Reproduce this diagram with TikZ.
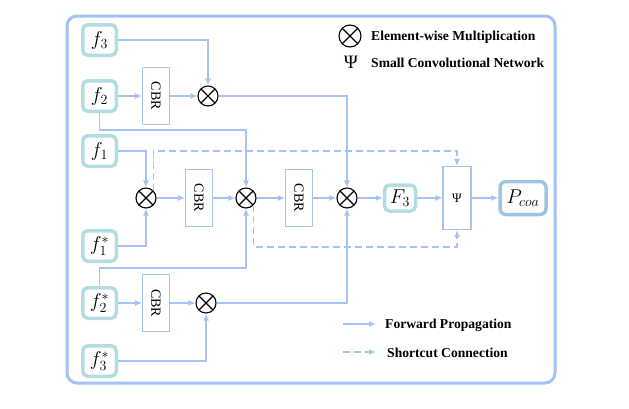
\documentclass[tikz,border=0pt]{standalone}
\usepackage{fix-cm}
\usepackage{fontspec}
\setmainfont{Liberation Serif}
\usetikzlibrary{arrows.meta}
\definecolor{lineblue}{HTML}{A4C2F4}
\definecolor{featcol}{HTML}{B4DDE3}
\definecolor{outcol}{HTML}{9DC3E6}
\tikzset{
	feat/.style={draw=featcol, line width=3.5pt, rounded corners=5pt, minimum width=33.5pt, minimum height=30.5pt, inner sep=0pt, font=\fontsize{20}{24}\selectfont},
	cbr/.style={draw=lineblue, line width=1.1pt, rotate=-90, minimum width=57pt, minimum height=27pt, inner sep=0pt, font=\fontsize{14}{16}\selectfont},
	mul/.style={circle, draw, line width=1.1pt, minimum size=20pt, inner sep=0pt,
		path picture={\draw[line width=1.1pt] (path picture bounding box.south west) -- (path picture bounding box.north east) (path picture bounding box.north west) -- (path picture bounding box.south east);}},
	fw/.style={draw=lineblue, line width=1.5pt, -{Latex[length=7pt,width=6pt]}},
	sc/.style={fw, dash pattern=on 7pt off 4pt},
	legtext/.style={anchor=west, inner sep=0pt, font=\fontsize{13.6}{16}\selectfont\bfseries}
}
\begin{document}
\begin{tikzpicture}[x=1pt, y=-1pt]
				\useasboundingbox (0,0) rectangle (629,408);
				\draw[lineblue, line width=3pt, rounded corners=10pt] (67,16) rectangle (555,383);
				
				\node[feat] (f3) at (99.5,40) {$f_3$};
				\node[feat] (f2) at (99.5,96) {$f_2$};
				\node[feat] (f1) at (99.5,151) {$f_1$};
				\node[feat] (f1s) at (99.5,246) {$f_1^*$};
				\node[feat] (f2s) at (99.5,303) {$f_2^*$};
				\node[feat] (f3s) at (99.5,361) {$f_3^*$};
				
				\node[cbr] (cbr1) at (156,96) {CBR};
				\node[mul] (mul1) at (208,96) {};
				
				\node[mul] (mulA) at (146,198) {};
				\node[cbr] (cbrA) at (199,198) {CBR};
				\node[mul] (mulB) at (246,198) {};
				\node[cbr] (cbrB) at (299,198) {CBR};
				\node[mul] (mulC) at (347,198) {};
				\node[draw=featcol, line width=3.5pt, rounded corners=5pt, minimum width=31pt, minimum height=26pt, inner sep=0pt, font=\fontsize{20}{24}\selectfont] (F3) at (400,198) {$F_3$};
				\node[draw=lineblue, line width=1.1pt, minimum width=28pt, minimum height=63pt, inner sep=0pt, font=\fontsize{13}{15}\selectfont] (psi) at (457,198) {Ψ};
				\node[draw=outcol, line width=3.5pt, rounded corners=6pt, minimum width=46pt, minimum height=33pt, inner sep=0pt, font=\fontsize{20}{24}\selectfont] (pcoa) at (523,198) {$P_{coa}$};
				
				\node[cbr] (cbr2) at (156,303) {CBR};
				\node[mul] (mul2) at (206,303) {};
				
				\coordinate (k2) at (150,130);
				\coordinate (k5) at (150,268);
				\coordinate (kt) at (300,151);
				\coordinate (kb) at (350,247);
				
				\draw[fw] (f3) -| (mul1);
				\draw[fw] (f2) -- (cbr1);
				\draw[fw] (cbr1) -- (mul1);
				\draw[fw] (mul1) -| (mulC);
				\draw[fw] (f2.south) |- (k2) -| (mulB);
				
				\draw[fw] (f1) -| (mulA);
				\draw[fw] (f1s) -| (mulA);
				\draw[fw] (mulA) -- (cbrA);
				\draw[fw] (cbrA) -- (mulB);
				\draw[fw] (mulB) -- (cbrB);
				\draw[fw] (cbrB) -- (mulC);
				\draw[fw] (mulC) -- (F3);
				\draw[fw] (F3) -- (psi);
				\draw[fw] (psi) -- (pcoa);
				\draw[fw] (f2s.north) |- (k5) -| (mulB);
				
				\draw[fw] (f2s) -- (cbr2);
				\draw[fw] (cbr2) -- (mul2);
				\draw[fw] (f3s) -| (mul2);
				\draw[fw] (mul2) -| (mulC);
				
				\draw[sc] (mulA.north east) |- (kt) -| (psi.north);
				\draw[sc] (mulB.south east) |- (kb) -| (psi.south);
				
				\node[mul, minimum size=22pt] (legmul) at (350,36) {};
				\node[legtext] (legmultext) at (371,37) {Element-wise Multiplication};
				\node[inner sep=0pt, font=\fontsize{19}{21}\selectfont] (legpsi) at (351,62) {Ψ};
				\node[legtext] (legpsitext) at (371,63) {Small Convolutional Network};
				
				\coordinate (lfa) at (343,324);
				\coordinate (lfb) at (376,324);
				\coordinate (lsa) at (343,352);
				\coordinate (lsb) at (376,352);
				\draw[fw] (lfa) -- (lfb);
				\draw[sc] (lsa) -- (lsb);
				\node[legtext] (legfw) at (385,325) {Forward Propagation};
				\node[legtext] (legsc) at (387,353) {Shortcut Connection};
\end{tikzpicture}
\end{document}
